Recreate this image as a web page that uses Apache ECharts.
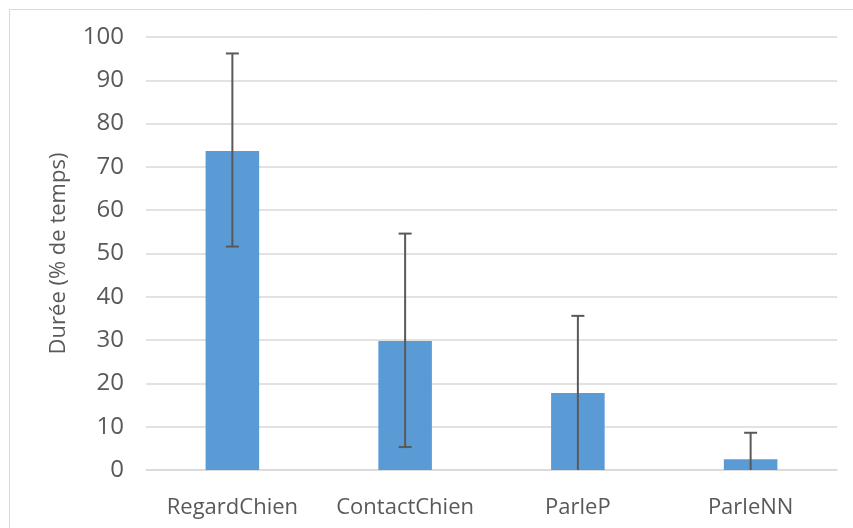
<!DOCTYPE html>
<html>
<head>
<meta charset="utf-8">
<script src="https://cdn.jsdelivr.net/npm/echarts@6/dist/echarts.min.js"></script>
<style>
html,body{margin:0;padding:0;background:#fff;}
#c{width:853px;height:528px;}
</style>
</head>
<body>
<div id="c"></div>
<script>
var categories = ['RegardChien', 'ContactChien', 'ParleP', 'ParleNN'];
var values = [73.7, 29.8, 17.8, 2.5];
var errLow = [51.6, 5.3, -0.2, -3.6];
var errHigh = [96.2, 54.6, 35.6, 8.6];
var yTicks = { min: 0, max: 100, interval: 10 };

var FONT = '"Open Sans", sans-serif';
var chart = echarts.init(document.getElementById('c'), null, { renderer: 'canvas' });

var errData = categories.map(function (c, i) { return [i, errLow[i], errHigh[i]]; });

chart.setOption({
  animation: false,
  backgroundColor: '#ffffff',
  graphic: [{
    type: 'rect',
    left: 7, top: 7,
    shape: { width: 846, height: 520 },
    style: { fill: 'none', stroke: '#d9d9d9', lineWidth: 1 },
    silent: true, z: -1
  }],
  grid: { left: 146, right: 16, top: 37, bottom: 58, containLabel: false },
  xAxis: {
    type: 'category',
    data: categories,
    axisLine: { show: true, lineStyle: { color: '#d9d9d9', width: 1.5 } },
    axisTick: { show: false },
    axisLabel: { color: '#595959', fontFamily: FONT, fontSize: 22, margin: 27, interval: 0, hideOverlap: false },
    splitLine: { show: false }
  },
  yAxis: {
    type: 'value',
    min: yTicks.min, max: yTicks.max, interval: yTicks.interval,
    name: 'Durée (% de temps)',
    nameLocation: 'middle',
    nameGap: 76,
    nameRotate: 90,
    nameTextStyle: { color: '#595959', fontFamily: FONT, fontSize: 22 },
    axisLine: { show: false },
    axisTick: { show: false },
    axisLabel: { color: '#595959', fontFamily: FONT, fontSize: 24, margin: 22 },
    splitLine: { lineStyle: { color: '#d9d9d9', width: 1.5 } }
  },
  series: [{
    type: 'bar',
    data: values,
    barWidth: '31%',
    itemStyle: { color: '#5b9bd5' },
    z: 2
  }, {
    type: 'custom',
    data: errData,
    z: 3,
    renderItem: function (params, api) {
      var x = api.value(0);
      var lo = api.value(1), hi = api.value(2);
      var pHi = api.coord([x, hi]);
      var pLo = api.coord([x, Math.max(lo, 0)]);
      var half = 6.5;
      var style = { stroke: '#595959', lineWidth: 2, fill: null };
      var children = [
        { type: 'line', shape: { x1: pHi[0], y1: pHi[1], x2: pLo[0], y2: pLo[1] }, style: style },
        { type: 'line', shape: { x1: pHi[0] - half, y1: pHi[1], x2: pHi[0] + half, y2: pHi[1] }, style: style }
      ];
      if (lo >= 0) {
        children.push({ type: 'line', shape: { x1: pLo[0] - half, y1: pLo[1], x2: pLo[0] + half, y2: pLo[1] }, style: style });
      }
      return { type: 'group', children: children };
    }
  }]
});
</script>
</body>
</html>
